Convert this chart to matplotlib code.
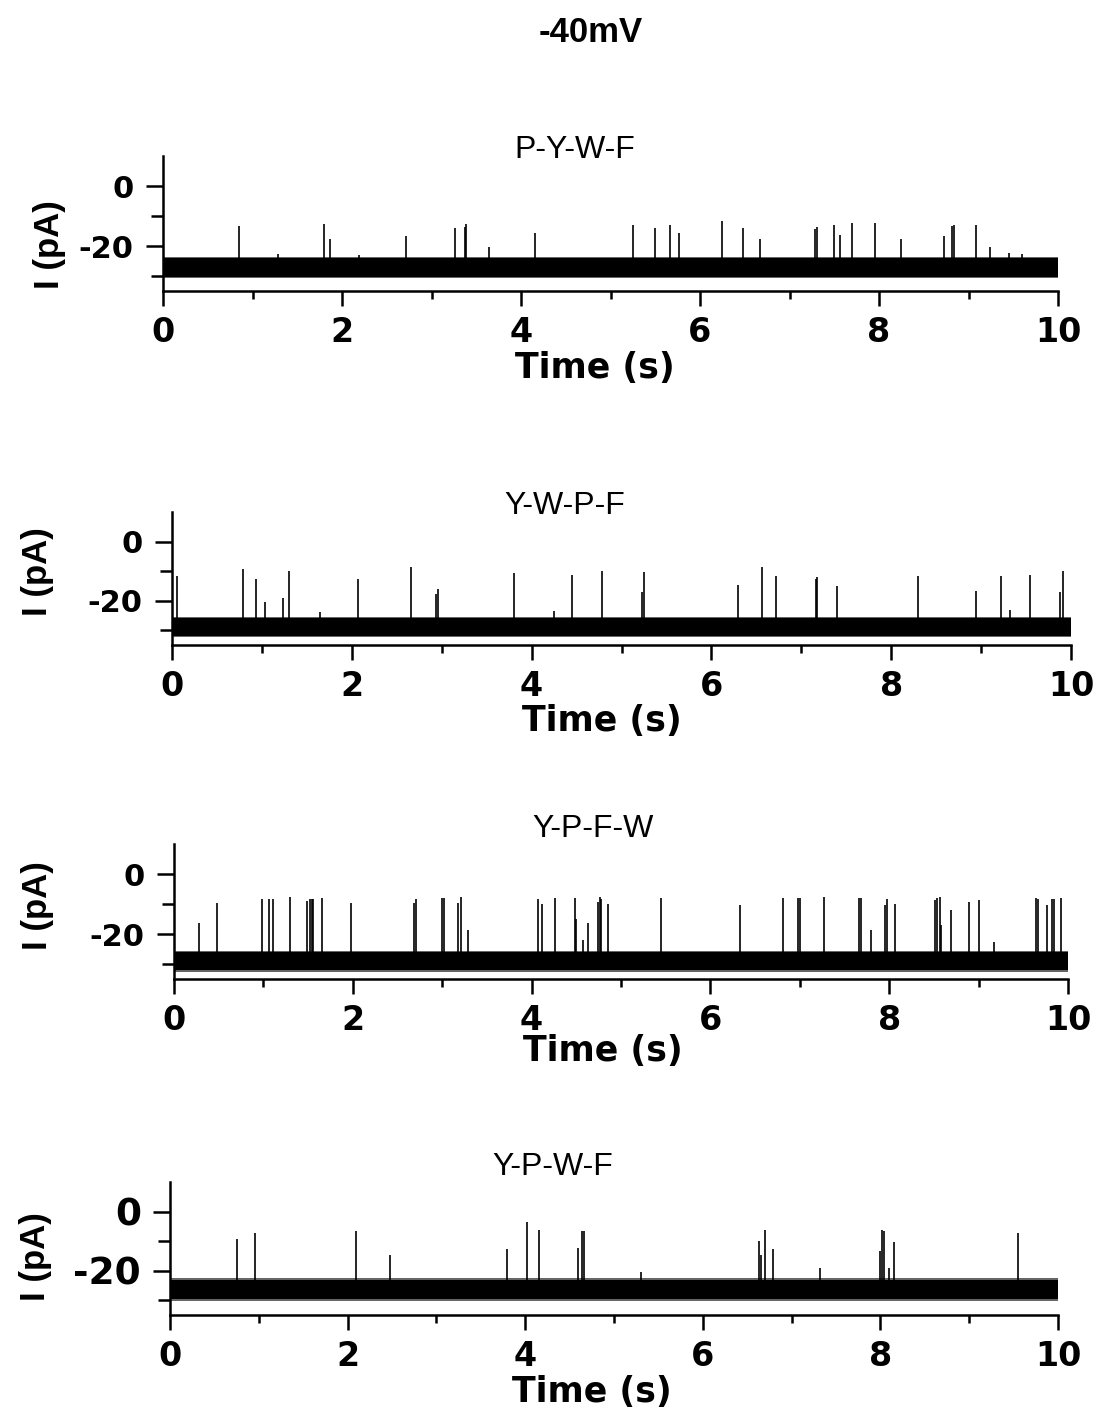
import matplotlib
matplotlib.use("Agg")
import matplotlib.pyplot as plt
from matplotlib.ticker import MultipleLocator, FixedLocator

plt.rcParams['font.family'] = ['Liberation Sans', 'DejaVu Sans']
plt.rcParams['axes.unicode_minus'] = False

W, H = 1102, 1419

# panel titles (peptide order)
titles = ["P-Y-W-F", "Y-W-P-F", "Y-P-F-W", "Y-P-W-F"]

# baseline noise band per panel (pA): low, high
base_lo = [-30.2, -31.9, -32.0, -29.7]
base_hi = [-24.1, -25.8, -25.9, -23.0]

# spike events: time (s) and peak current (pA)
t1 = [0.85, 1.28, 1.80, 1.87, 2.19, 2.72, 3.26, 3.37, 3.39, 3.64, 4.16, 5.25, 5.50, 5.66,
      5.76, 6.25, 6.48, 6.67, 7.29, 7.31, 7.50, 7.56, 7.70, 7.95, 8.25, 8.73, 8.82, 8.84,
      9.08, 9.24, 9.45, 9.60]
p1 = [-13.2, -22.5, -12.8, -17.8, -23.0, -16.8, -13.9, -13.5, -12.8, -20.2, -15.6, -12.9, -14.0, -12.9,
      -15.6, -11.7, -14.0, -17.8, -14.2, -13.8, -12.9, -16.3, -12.4, -12.4, -17.6, -16.7, -13.2, -12.9,
      -12.9, -20.2, -22.4, -22.6]

t2 = [0.06, 0.79, 0.93, 1.04, 1.23, 1.30, 1.65, 2.07, 2.66, 2.94, 2.96, 3.80, 4.25, 4.45,
      4.78, 5.23, 5.25, 6.30, 6.56, 6.72, 7.16, 7.18, 7.40, 8.30, 8.94, 9.22, 9.32, 9.54,
      9.88, 9.91]
p2 = [-11.7, -9.3, -12.8, -20.3, -19.1, -10.1, -23.8, -12.8, -8.6, -17.7, -16.0, -10.8, -23.5, -11.3,
      -10.1, -17.0, -10.4, -14.8, -8.6, -11.7, -12.5, -12.1, -14.9, -11.7, -16.8, -11.7, -23.0, -11.3,
      -16.9, -9.8]

t3 = [0.28, 0.48, 0.98, 1.06, 1.11, 1.30, 1.49, 1.52, 1.54, 1.56, 1.65, 1.98, 2.69, 2.71,
      3.00, 3.02, 3.18, 3.21, 3.29, 4.07, 4.12, 4.26, 4.49, 4.50, 4.58, 4.63, 4.74, 4.76,
      4.78, 4.85, 5.45, 6.33, 6.81, 6.98, 7.00, 7.27, 7.66, 7.68, 7.80, 7.95, 7.97, 8.07,
      8.51, 8.54, 8.57, 8.58, 8.69, 8.89, 9.00, 9.17, 9.64, 9.66, 9.77, 9.82, 9.84, 9.92]
p3 = [-16.2, -9.7, -8.4, -8.4, -8.4, -7.8, -9.0, -8.2, -8.2, -8.2, -8.1, -9.7, -9.7, -8.2,
      -8.1, -8.1, -9.7, -7.8, -18.7, -8.4, -10.0, -8.1, -8.1, -14.9, -22.1, -16.2, -9.2, -7.8,
      -8.2, -10.0, -8.1, -10.4, -8.1, -8.1, -8.1, -7.8, -8.1, -8.1, -18.7, -10.4, -8.4, -10.0,
      -8.6, -8.1, -7.8, -17.0, -12.0, -9.2, -8.7, -22.6, -8.1, -8.4, -10.4, -8.4, -8.4, -8.1]

t4 = [0.76, 0.96, 2.09, 2.48, 3.80, 4.02, 4.16, 4.59, 4.64, 4.66, 5.30, 6.63, 6.65, 6.70,
      6.79, 7.32, 7.99, 8.02, 8.04, 8.10, 8.15, 9.55]
p4 = [-9.4, -7.1, -6.7, -14.6, -12.6, -3.7, -6.4, -12.2, -6.7, -6.7, -20.5, -9.9, -14.7, -6.4,
      -12.7, -19.2, -13.3, -6.4, -6.7, -19.2, -10.2, -7.1]

spike_t = [t1, t2, t3, t4]
spike_p = [p1, p2, p3, p4]

# layout in pixels: left, right, top, bottom of each axes
boxes = [(163, 1058, 156, 291), (172, 1071, 512, 645), (174, 1068, 844, 979), (170, 1058, 1182, 1315)]
title_xy = [(575, 150), (565, 506), (593, 829), (553, 1167)]
ylab_xy = [(50, 245), (38, 572), (38, 906), (35, 1257)]
xlab_xy = [(595, 368), (602, 721), (603, 1051), (592, 1392)]
ytick_fs = [22, 22, 22, 27]

bold_font = ['DejaVu Sans']

fig = plt.figure(figsize=(W / 100, H / 100), dpi=100)
fig.text(591 / W, 1 - 32 / H, "-40mV", ha='center', va='center', fontsize=25, fontweight='bold')

for i in range(4):
    l, r, t, b = boxes[i]
    ax = fig.add_axes([l / W, 1 - b / H, (r - l) / W, (b - t) / H])

    # noisy baseline drawn as a band, with a darker fringe
    ax.fill_between([0, 10], base_lo[i] - 0.5, base_hi[i] + 0.4, color='black', alpha=0.6, lw=0)
    ax.fill_between([0, 10], base_lo[i], base_hi[i], color='black', lw=0)
    ax.vlines(spike_t[i], base_hi[i], spike_p[i], color='black', lw=1.2)

    ax.set_xlim(0, 10)
    ax.set_ylim(-35, 10)
    for s in ['top', 'right']:
        ax.spines[s].set_visible(False)
    for s in ['left', 'bottom']:
        ax.spines[s].set_linewidth(1.8)

    ax.xaxis.set_major_locator(MultipleLocator(2))
    ax.xaxis.set_minor_locator(MultipleLocator(1))
    ax.yaxis.set_major_locator(FixedLocator([0, -20]))
    ax.yaxis.set_minor_locator(FixedLocator([-10, -30]))
    ax.tick_params(axis='x', which='major', direction='out', length=11, width=1.8, pad=7, labelsize=24)
    ax.tick_params(axis='x', which='minor', direction='out', length=6, width=1.8)
    ax.tick_params(axis='y', which='major', direction='out', length=12, width=1.8, pad=9,
                   labelsize=ytick_fs[i])
    ax.tick_params(axis='y', which='minor', direction='out', length=9, width=1.8)
    for lab in ax.get_xticklabels() + ax.get_yticklabels():
        lab.set_fontweight('bold')
        lab.set_family(bold_font)

    xx, xy = xlab_xy[i]
    fig.text(xx / W, 1 - xy / H, "Time (s)", ha='center', va='center', fontsize=25,
             fontweight='bold', family=bold_font)

    tx, ty = title_xy[i]
    fig.text(tx / W, 1 - ty / H, titles[i], ha='center', va='center', fontsize=23)
    lx, ly = ylab_xy[i]
    fig.text(lx / W, 1 - ly / H, "I (pA)", ha='center', va='center', rotation=90,
             fontsize=25, fontweight='bold')

fig.savefig("out.png", dpi=100)
